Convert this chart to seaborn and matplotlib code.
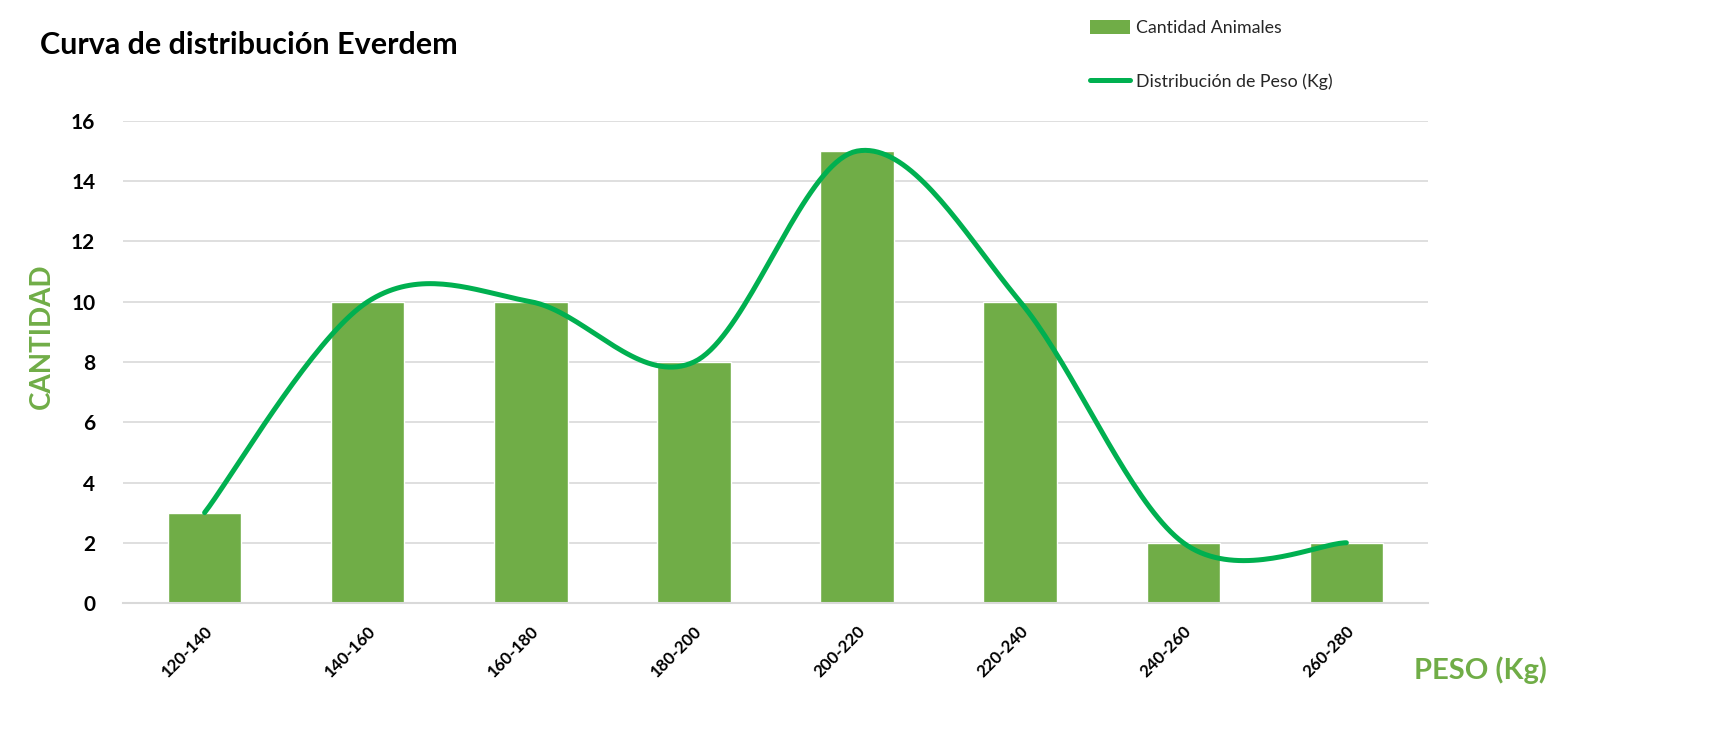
import numpy as np
import pandas as pd
import matplotlib
matplotlib.use("Agg")
import matplotlib.pyplot as plt
from matplotlib.patches import Patch
from matplotlib.lines import Line2D
import seaborn as sns

# ---- data ----
categories = ["120-140", "140-160", "160-180", "180-200",
              "200-220", "220-240", "240-260", "260-280"]
cantidad = [3, 10, 10, 8, 15, 10, 2, 2]
y_ticks = [0, 2, 4, 6, 8, 10, 12, 14, 16]

title = "Curva de distribución Everdem"
bar_label = "Cantidad Animales"
line_label = "Distribución de Peso (Kg)"
ylabel = "CANTIDAD"
xlabel = "PESO (Kg)"

BAR_COLOR = "#70AD47"
LINE_COLOR = "#00B050"
GRID_COLOR = "#D9D9D9"

sns.set_theme(style="white")
plt.rcParams["font.family"] = ["Lato", "DejaVu Sans"]

fig = plt.figure(figsize=(17.26, 7.44), dpi=100)
ax = fig.add_axes([0.0713, 0.1895, 0.7560, 0.6479])

df = pd.DataFrame({"peso": categories, "cantidad": cantidad})
sns.barplot(data=df, x="peso", y="cantidad", color=BAR_COLOR, saturation=1,
            width=0.45, ax=ax, zorder=2)


def smooth_curve(xs, ys, n=40):
    """Excel-style smoothed line: cubic Bezier with Catmull-Rom control points."""
    xs = np.asarray(xs, float)
    ys = np.asarray(ys, float)
    px, py = [], []
    m = len(xs)
    for i in range(m - 1):
        x0, y0 = (xs[i - 1], ys[i - 1]) if i > 0 else (xs[i], ys[i])
        x1, y1 = xs[i], ys[i]
        x2, y2 = xs[i + 1], ys[i + 1]
        x3, y3 = (xs[i + 2], ys[i + 2]) if i + 2 < m else (xs[i + 1], ys[i + 1])
        c1x, c1y = x1 + (x2 - x0) / 6, y1 + (y2 - y0) / 6
        c2x, c2y = x2 - (x3 - x1) / 6, y2 - (y3 - y1) / 6
        t = np.linspace(0, 1, n)
        bx = (1-t)**3*x1 + 3*(1-t)**2*t*c1x + 3*(1-t)*t**2*c2x + t**3*x2
        by = (1-t)**3*y1 + 3*(1-t)**2*t*c1y + 3*(1-t)*t**2*c2y + t**3*y2
        px.extend(bx)
        py.extend(by)
    return np.array(px), np.array(py)


cx, cy = smooth_curve(np.arange(len(categories)), cantidad)
ax.plot(cx, cy, color=LINE_COLOR, lw=3.6, solid_capstyle="round", zorder=3)

ax.set_xlim(-0.5, len(categories) - 0.5)
ax.set_ylim(0, 16)
ax.set_yticks(y_ticks)
ax.set_yticklabels([str(v) for v in y_ticks], fontsize=15, fontweight="bold",
                   color="black")
ax.set_xticks(range(len(categories)))
ax.set_xticklabels(categories, rotation=45, ha="right", rotation_mode="anchor",
                   fontsize=12.2, fontweight="bold", color="black")
ax.tick_params(axis="x", length=0, pad=14)
ax.tick_params(axis="y", length=0, pad=20)
ax.grid(axis="y", color=GRID_COLOR, lw=1.2, zorder=0)
ax.set_axisbelow(True)
for s in ["top", "right", "left"]:
    ax.spines[s].set_visible(False)
ax.spines["bottom"].set_color(GRID_COLOR)
ax.spines["bottom"].set_linewidth(1.5)
ax.set_xlabel("")
ax.set_ylabel("")

fig.text(0.0232, 0.94, title, fontsize=22, fontweight="bold", color="black",
         ha="left", va="center")
fig.text(0.0243, 0.548, ylabel, fontsize=20, fontweight="bold",
         color=BAR_COLOR, rotation=90, ha="center", va="center")
fig.text(0.8195, 0.099, xlabel, fontsize=21, fontweight="bold",
         color=BAR_COLOR, ha="left", va="center")

handles = [Patch(facecolor=BAR_COLOR, edgecolor="none", label=bar_label),
           Line2D([0], [0], color=LINE_COLOR, lw=3.6, label=line_label)]
fig.legend(handles=handles, loc="upper left", bbox_to_anchor=(0.622, 0.995),
           frameon=False, fontsize=12.8, labelspacing=2.1, handlelength=2.3,
           handleheight=0.9, handletextpad=0.3)

fig.savefig("out.png", dpi=100)
